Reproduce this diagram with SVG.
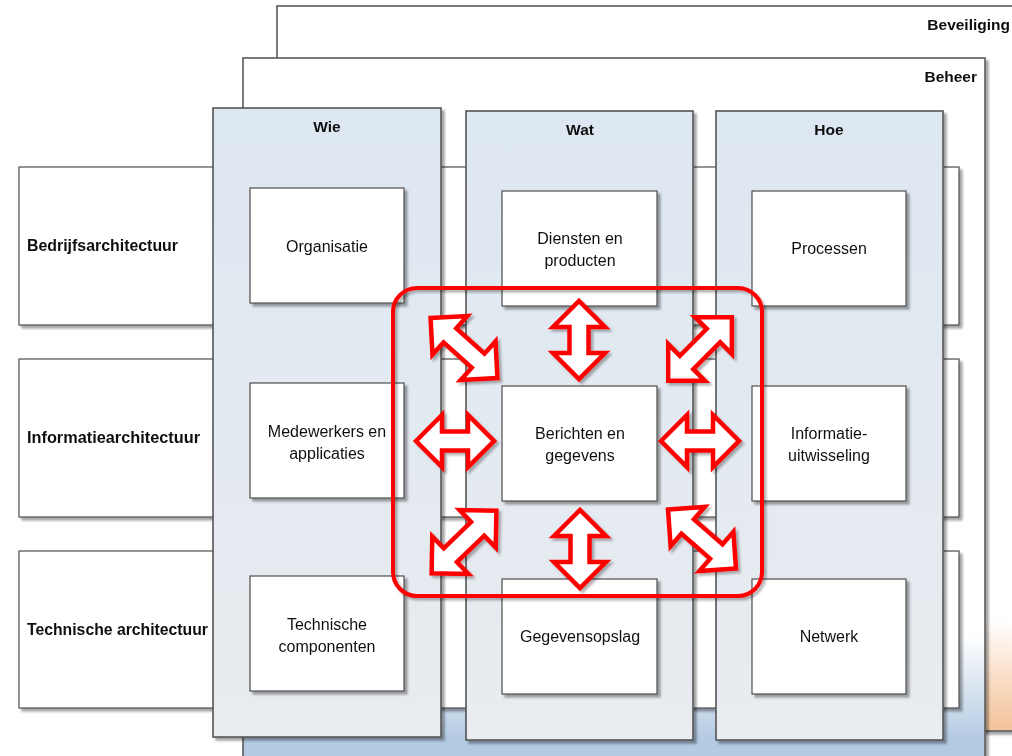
<svg xmlns="http://www.w3.org/2000/svg" width="1012" height="756" viewBox="0 0 1012 756">
<defs>
<linearGradient id="gBev" gradientUnits="userSpaceOnUse" x1="0" y1="620" x2="0" y2="731">
<stop offset="0" stop-color="#ffffff"/><stop offset="0.7" stop-color="#f7d3b4"/><stop offset="1" stop-color="#f3c39b"/>
</linearGradient>
<linearGradient id="gBeh" gradientUnits="userSpaceOnUse" x1="0" y1="635" x2="0" y2="740">
<stop offset="0" stop-color="#ffffff"/><stop offset="1" stop-color="#b3cae2"/>
</linearGradient>
<linearGradient id="gCol" x1="0" y1="0" x2="0" y2="1">
<stop offset="0" stop-color="#dde7f1"/><stop offset="1" stop-color="#e9ecf0"/>
</linearGradient>
<filter id="sh" x="-10%" y="-10%" width="130%" height="130%">
<feDropShadow dx="3" dy="3" stdDeviation="1" flood-color="#000" flood-opacity="0.35"/>
</filter>
<filter id="shA" x="-20%" y="-20%" width="150%" height="150%">
<feDropShadow dx="2.5" dy="2.5" stdDeviation="1.2" flood-color="#000" flood-opacity="0.3"/>
</filter>
<path id="arr" d="M -39 0 L -13 -26 L -13 -9.5 L 13 -9.5 L 13 -26 L 39 0 L 13 26 L 13 9.5 L -13 9.5 L -13 26 Z"/>
<path id="arrD" d="M -45 0 L -19 -26 L -19 -9.5 L 19 -9.5 L 19 -26 L 45 0 L 19 26 L 19 9.5 L -19 9.5 L -19 26 Z"/>
</defs>
<style>
.frame{stroke:#5a5a5a;stroke-width:1.6}
.box{fill:#ffffff;stroke:#4d4d4d;stroke-width:1.2}
.col{fill:url(#gCol);stroke:#555;stroke-width:1.6}
.t{font-family:"Liberation Sans",Arial,sans-serif;font-size:16px;fill:#111;text-anchor:middle}
.b{font-family:"Liberation Sans",Arial,sans-serif;font-size:15.5px;font-weight:bold;fill:#111}
.rl{font-size:16px}
.arrow{fill:#ffffff;stroke:#ff0000;stroke-width:4.5;stroke-linejoin:miter}
</style>

<g id="beveiliging" filter="url(#sh)">
<rect class="frame" x="277" y="6" width="760" height="725" fill="url(#gBev)"/>
<text class="b" x="1010" y="30" text-anchor="end">Beveiliging</text>
</g>

<g id="beheer" filter="url(#sh)">
<rect class="frame" x="243" y="58" width="742" height="730" fill="url(#gBeh)"/>
<text class="b" x="977" y="82" text-anchor="end">Beheer</text>
</g>

<g id="row-bedrijf" filter="url(#sh)">
<rect class="box" x="19" y="167" width="940" height="158"/>
<text class="b rl" x="27" y="251" textLength="151" lengthAdjust="spacingAndGlyphs">Bedrijfsarchitectuur</text>
</g>
<g id="row-informatie" filter="url(#sh)">
<rect class="box" x="19" y="359" width="940" height="158"/>
<text class="b rl" x="27" y="443" textLength="173" lengthAdjust="spacingAndGlyphs">Informatiearchitectuur</text>
</g>
<g id="row-technisch" filter="url(#sh)">
<rect class="box" x="19" y="551" width="940" height="157"/>
<text class="b rl" x="27" y="635" textLength="181" lengthAdjust="spacingAndGlyphs">Technische architectuur</text>
</g>

<g id="col-wie" filter="url(#sh)">
<rect class="col" x="213" y="108" width="228" height="629"/>
<text class="b" x="327" y="132" text-anchor="middle">Wie</text>
</g>
<g id="col-wat" filter="url(#sh)">
<rect class="col" x="466" y="111" width="227" height="629"/>
<text class="b" x="580" y="135" text-anchor="middle">Wat</text>
</g>
<g id="col-hoe" filter="url(#sh)">
<rect class="col" x="716" y="111" width="227" height="629"/>
<text class="b" x="829" y="135" text-anchor="middle">Hoe</text>
</g>

<g id="organisatie" filter="url(#sh)">
<rect class="box" x="250" y="188" width="154" height="115"/>
<text class="t" x="327" y="252">Organisatie</text>
</g>
<g id="medewerkers" filter="url(#sh)">
<rect class="box" x="250" y="383" width="154" height="115"/>
<text class="t" x="327" y="437">Medewerkers en</text>
<text class="t" x="327" y="459">applicaties</text>
</g>
<g id="technische-componenten" filter="url(#sh)">
<rect class="box" x="250" y="576" width="154" height="115"/>
<text class="t" x="327" y="630">Technische</text>
<text class="t" x="327" y="652">componenten</text>
</g>
<g id="diensten" filter="url(#sh)">
<rect class="box" x="502" y="191" width="155" height="115"/>
<text class="t" x="580" y="244">Diensten en</text>
<text class="t" x="580" y="266">producten</text>
</g>
<g id="berichten" filter="url(#sh)">
<rect class="box" x="502" y="386" width="155" height="115"/>
<text class="t" x="580" y="439">Berichten en</text>
<text class="t" x="580" y="461">gegevens</text>
</g>
<g id="gegevensopslag" filter="url(#sh)">
<rect class="box" x="502" y="579" width="155" height="115"/>
<text class="t" x="580" y="642">Gegevensopslag</text>
</g>
<g id="processen" filter="url(#sh)">
<rect class="box" x="752" y="191" width="154" height="115"/>
<text class="t" x="829" y="254">Processen</text>
</g>
<g id="informatie-uitwisseling" filter="url(#sh)">
<rect class="box" x="752" y="386" width="154" height="115"/>
<text class="t" x="829" y="439">Informatie-</text>
<text class="t" x="829" y="461">uitwisseling</text>
</g>
<g id="netwerk" filter="url(#sh)">
<rect class="box" x="752" y="579" width="154" height="115"/>
<text class="t" x="829" y="642">Netwerk</text>
</g>

<g id="focus-frame" filter="url(#shA)">
<rect x="393" y="288" width="369" height="308" rx="24" ry="24" fill="none" stroke="#ff0000" stroke-width="4"/>
</g>

<g id="connectors" filter="url(#shA)">
<use href="#arr" class="arrow" transform="translate(579 340) rotate(90)"/>
<use href="#arr" class="arrow" transform="translate(580 549) rotate(90)"/>
<use href="#arr" class="arrow" transform="translate(455 441)"/>
<use href="#arr" class="arrow" transform="translate(700 441)"/>
<use href="#arrD" class="arrow" transform="translate(464 348) rotate(42)"/>
<use href="#arrD" class="arrow" transform="translate(700 349) rotate(-45)"/>
<use href="#arrD" class="arrow" transform="translate(464 542) rotate(-44)"/>
<use href="#arrD" class="arrow" transform="translate(702 539) rotate(41)"/>
</g>
</svg>
